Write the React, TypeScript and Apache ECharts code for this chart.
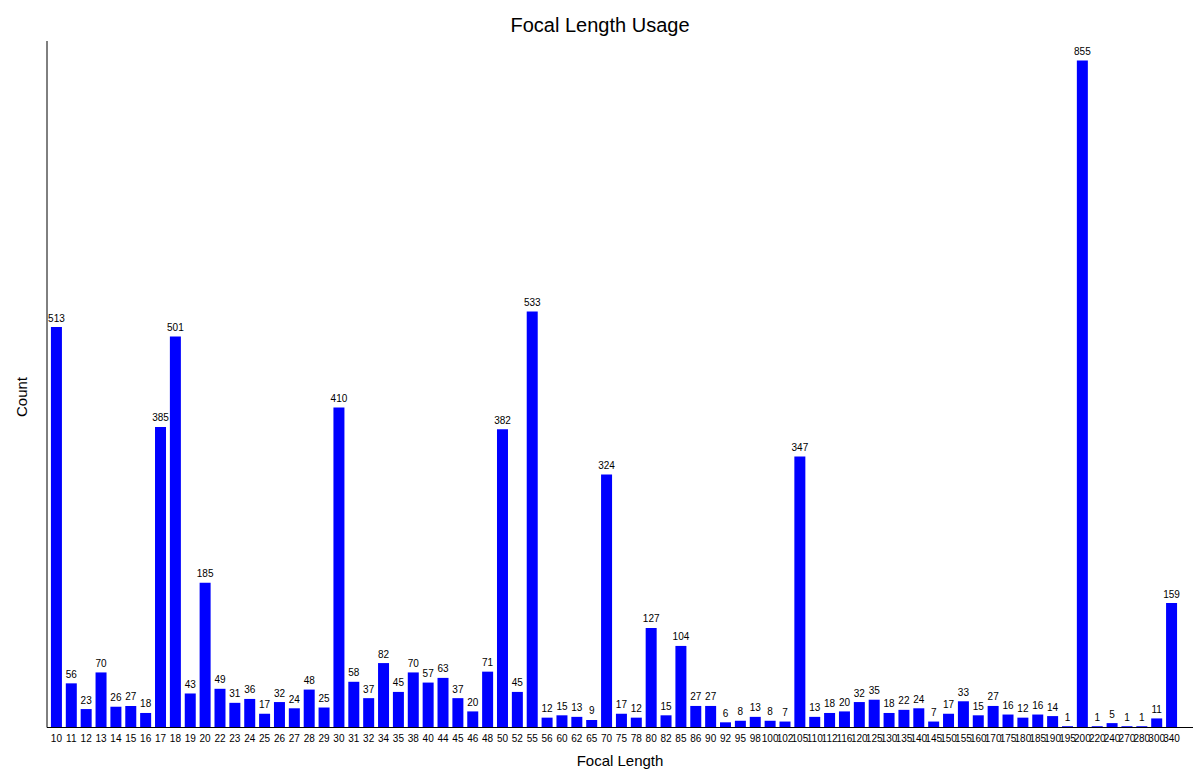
import React, { useEffect, useRef } from "react";
import * as echarts from "echarts";

const categories = [
  "10","11","12","13","14","15","16","17","18","19","20","22","23","24","25","26","27","28","29",
  "30","31","32","34","35","38","40","44","45","46","48","50","52","55","56","60","62","65","70",
  "75","78","80","82","85","86","90","92","95","98",
  "100","102","105","110","112","116","120","125","130",
  "135","140","145","150","155","160","170","175","180","185","190","195",
  "200","220","240","270","280","300","340",
];

const counts = [
  513,56,23,70,26,27,18,385,501,43,185,49,31,36,17,32,24,48,25,
  410,58,37,82,45,70,57,63,37,20,71,382,45,533,12,15,13,9,324,
  17,12,127,15,104,27,27,6,8,13,
  8,7,347,13,18,20,32,35,18,
  22,24,7,17,33,15,27,16,12,16,14,1,
  855,1,5,1,1,11,159,
];

const titleText = "Focal Length Usage";
const xName = "Focal Length";
const yName = "Count";

export default function App() {
  const ref = useRef<HTMLDivElement>(null);
  useEffect(() => {
    if (!ref.current) return;
    const chart = echarts.init(ref.current, null, { renderer: "svg" });
    const font = "'Liberation Sans', Arial, sans-serif";
    chart.setOption({
      animation: false,
      backgroundColor: "#ffffff",
      textStyle: { fontFamily: font },
      title: {
        text: titleText,
        left: "center",
        top: 10,
        textStyle: { fontFamily: font, fontSize: 20, fontWeight: "normal", color: "#000" },
      },
      grid: { left: 49, top: 41, width: 1130, height: 686, containLabel: false },
      xAxis: {
        type: "category",
        data: categories,
        axisLine: { show: false },
        axisTick: { show: false },
        axisLabel: { interval: 0, fontSize: 10, color: "#000", margin: 6, fontFamily: font },
      },
      yAxis: {
        type: "value",
        min: 0,
        max: 880,
        axisLine: { show: false },
        axisTick: { show: false },
        axisLabel: { show: false },
        splitLine: { show: false },
      },
      series: [
        {
          type: "bar",
          data: counts,
          barWidth: 11,
          itemStyle: { color: "#0000ff" },
          label: {
            show: true,
            position: "top",
            distance: 4,
            fontSize: 10,
            color: "#000",
            fontFamily: font,
          },
        },
      ],
      graphic: [
        { type: "line", shape: { x1: 47, y1: 41, x2: 47, y2: 727.5 }, style: { stroke: "#000", lineWidth: 1 } },
        { type: "line", shape: { x1: 47, y1: 727.5, x2: 1193, y2: 727.5 }, style: { stroke: "#000", lineWidth: 1 } },
        {
          type: "text",
          x: 620,
          y: 760,
          style: { text: xName, fontSize: 15, fontFamily: font, fill: "#000", align: "center", verticalAlign: "middle" },
        },
        {
          type: "text",
          x: 21,
          y: 397,
          rotation: Math.PI / 2,
          style: { text: yName, fontSize: 15, fontFamily: font, fill: "#000", align: "center", verticalAlign: "middle" },
        },
      ],
    });
    return () => chart.dispose();
  }, []);
  return <div ref={ref} style={{ width: 1200, height: 782, position: "absolute", left: 0, top: 0 }} />;
}
